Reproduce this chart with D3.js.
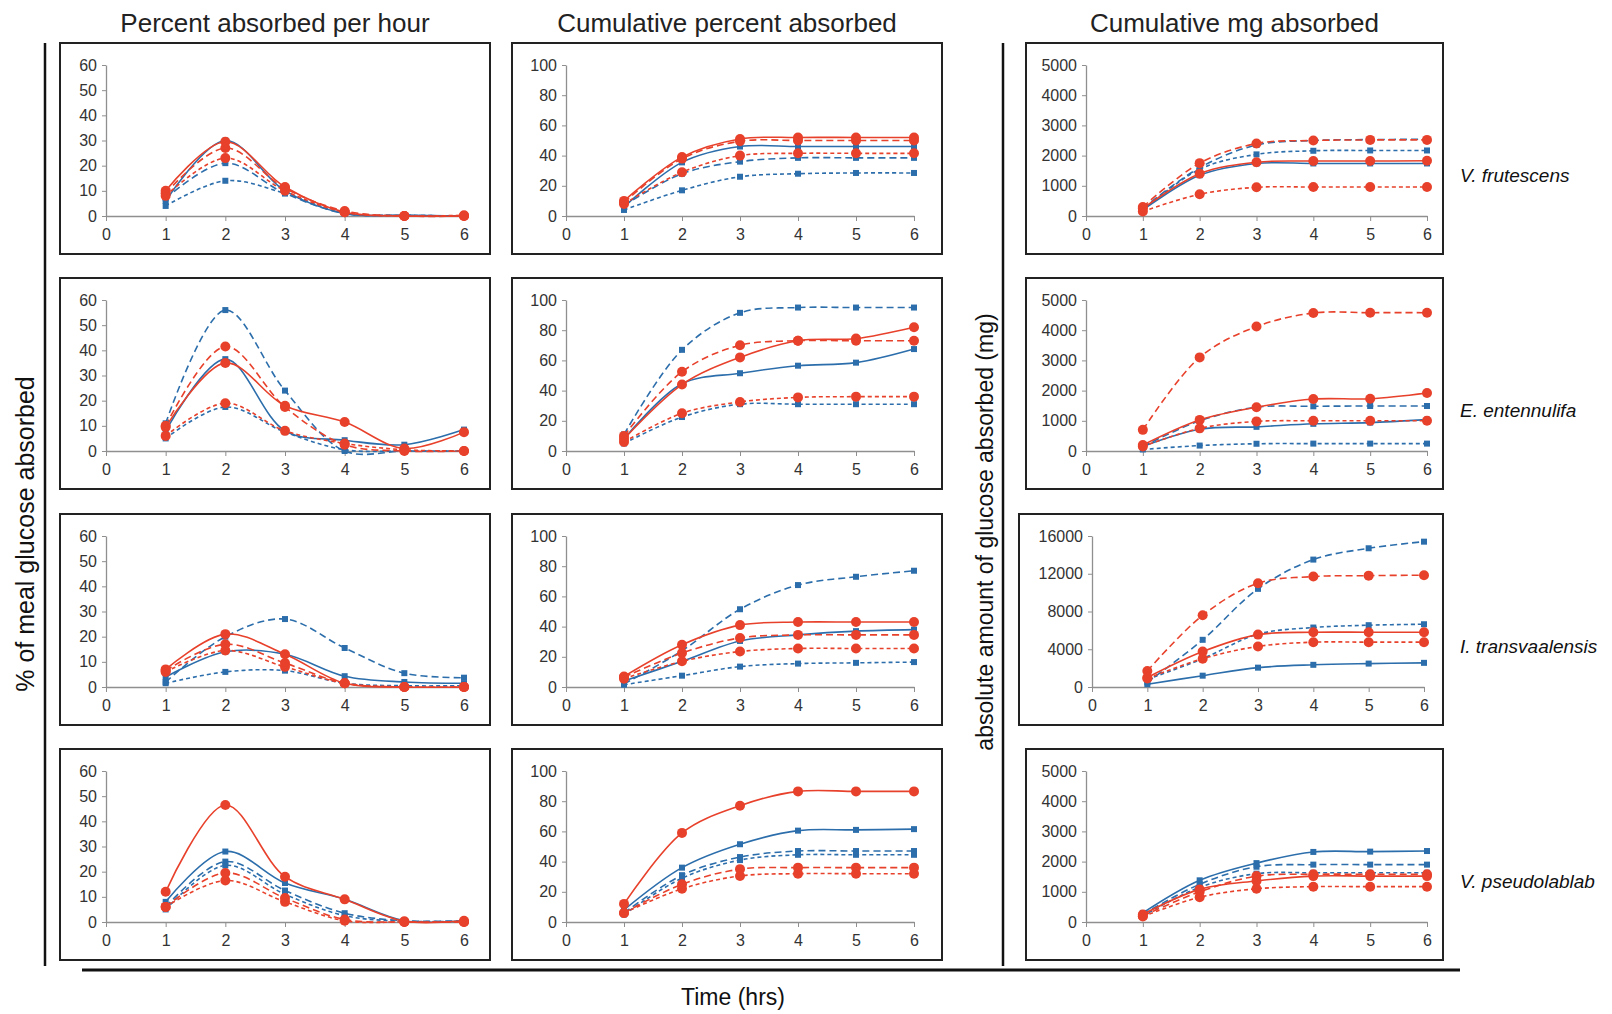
<!DOCTYPE html>
<html>
<head>
<meta charset="utf-8">
<script src="https://cdn.jsdelivr.net/npm/d3@7"></script>
<style>
  body { margin: 0; background: #fff; }
  svg { display: block; }
  text { font-family: "Liberation Sans", Arial, sans-serif; }
</style>
</head>
<body>
<svg id="chart"></svg>
<script>
// ---- data ----
const hours = [1, 2, 3, 4, 5, 6];
const xTicks = [0, 1, 2, 3, 4, 5, 6];
const columnTitles = ['Percent absorbed per hour', 'Cumulative percent absorbed', 'Cumulative mg absorbed'];
const species = ['V. frutescens', 'E. entennulifa', 'I. transvaalensis', 'V. pseudolablab'];
const rateTicks = [0, 10, 20, 30, 40, 50, 60];
const pctTicks = [0, 20, 40, 60, 80, 100];
const mgTicks = [0, 1000, 2000, 3000, 4000, 5000];
const mgTicksBig = [0, 4000, 8000, 12000, 16000];

// series order in every panel:
// blue solid, blue dashed (long), blue dashed (short), red solid, red dashed (long), red dashed (short)
const perHourVF = [
  [6, 30, 10, 1, 0.3, 0],
  [7, 21, 9, 1, 0.3, 0],
  [4, 14, 9, 1, 0.3, 0],
  [10, 29.5, 11.5, 1.5, 0, 0],
  [9, 27, 11, 2, 0, 0],
  [8, 23, 10, 1.5, 0, 0.3]
];
const cumPctVF = [
  [6, 35.5, 46, 46, 46, 46],
  [7, 28, 36, 38.5, 38.5, 38.5],
  [4, 17, 26, 28, 28.5, 28.5],
  [10, 39, 51, 52, 52, 52],
  [9, 38, 49.5, 50, 50, 50],
  [8, 29, 40, 41.5, 41.5, 41.5]
];
const cumMgVF = [
  [200, 1350, 1740, 1740, 1740, 1740],
  [250, 1600, 2350, 2500, 2530, 2540],
  [200, 1550, 2040, 2160, 2170, 2170],
  [250, 1400, 1780, 1820, 1820, 1830],
  [300, 1750, 2400, 2500, 2520, 2520],
  [150, 720, 950, 960, 960, 960]
];

const perHourEE = [
  [8, 36.5, 8, 4.3, 2.5, 8.5],
  [11, 56, 24, 0, 0, 0],
  [5, 17.5, 7.5, 0.5, 0, 0],
  [9.5, 35, 18, 11.5, 1, 7.5],
  [10, 41.5, 17.5, 2.5, 0, 0],
  [6, 19, 8, 3, 0.5, 0]
];
const cumPctEE = [
  [8, 44.5, 51.5, 56.5, 58.5, 67.5],
  [11, 67, 91.5, 95, 95, 95],
  [5, 22.5, 31, 31, 31, 31],
  [8, 44, 62, 73, 74.5, 82],
  [10, 52.5, 70, 73, 73, 73],
  [6, 25, 32.5, 35.5, 36, 36]
];
const cumMgEE = [
  [150, 720, 800, 900, 940, 1040],
  [150, 1000, 1450, 1480, 1490, 1490],
  [50, 180, 240, 245, 245, 245],
  [200, 1030, 1450, 1720, 1730, 1920],
  [700, 3100, 4120, 4570, 4580, 4580],
  [150, 750, 980, 1000, 1000, 1000]
];

const perHourIT = [
  [4, 14, 13, 4.3, 2, 1.5],
  [2, 20, 27, 15.5, 5.5, 3.7],
  [1.5, 6, 6.5, 1.5, 0.5, 0.5],
  [7, 21, 13, 1.5, 0, 0],
  [6.5, 17, 9.5, 1.5, 0, 0],
  [6, 14.5, 8, 1.5, 0, 0]
];
const cumPctIT = [
  [4, 17, 30.5, 34.5, 37, 38],
  [2, 24, 51.5, 67.5, 73, 77],
  [1.5, 7.5, 13.5, 15.5, 16, 16.5],
  [7, 28, 41, 43, 43, 43],
  [6.5, 22.5, 32.5, 34.5, 34.5, 34.5],
  [5.5, 17, 23.5, 25.5, 25.5, 25.5]
];
const cumMgIT = [
  [300, 1200, 2050, 2350, 2480, 2560],
  [500, 5000, 10400, 13500, 14700, 15400],
  [800, 3000, 5600, 6300, 6550, 6650],
  [1000, 3750, 5550, 5800, 5800, 5800],
  [1700, 7600, 11000, 11700, 11800, 11850],
  [900, 3000, 4300, 4750, 4750, 4750]
];

const perHourVP = [
  [8, 28, 15.5, 9, 0.5, 0.5],
  [6, 24, 12.5, 3.5, 0.5, 0.5],
  [5, 22.5, 11, 2.5, 0.3, 0.3],
  [12, 46.5, 18, 9, 0.3, 0.5],
  [6, 19.5, 9.5, 1, 0, 0],
  [6, 16.5, 8, 0.5, 0, 0]
];
const cumPctVP = [
  [8, 36, 51.5, 60.5, 61, 61.5],
  [6, 31, 43, 47, 47, 47],
  [5, 29, 41, 44.5, 44.5, 44.5],
  [12, 59, 77, 86.5, 86.5, 86.5],
  [6, 25, 35, 36, 36, 36],
  [6, 22, 30.5, 32, 32, 32]
];
const cumMgVP = [
  [300, 1380, 1950, 2320, 2330, 2350],
  [250, 1250, 1830, 1900, 1900, 1900],
  [200, 1150, 1600, 1630, 1630, 1630],
  [250, 1080, 1360, 1520, 1520, 1520],
  [200, 1000, 1520, 1580, 1580, 1580],
  [180, 820, 1100, 1170, 1170, 1170]
];

// ---- layout / style ----
const w = 1612, h = 1014;
const blue = '#2c6eab', red = '#e8412b';
const seriesColor = [blue, blue, blue, red, red, red];
const seriesDash = [null, '7,4', '4,3', null, '7,4', '4,3'];
const seriesMarker = ['square', 'square', 'square', 'circle', 'circle', 'circle'];

const boxX = [60, 512, 1026], boxR = [490, 942, 1443];
const plotX0 = [106, 566, 1086], plotX1 = [464, 914, 1427];
const boxY = [43, 278, 514, 749];
const boxH = 211;

const grid = [
  [perHourVF, cumPctVF, cumMgVF],
  [perHourEE, cumPctEE, cumMgEE],
  [perHourIT, cumPctIT, cumMgIT],
  [perHourVP, cumPctVP, cumMgVP]
];

const svg = d3.select('#chart').attr('width', w).attr('height', h);

// column titles
columnTitles.forEach((t, i) => {
  svg.append('text')
    .attr('x', (boxX[i] + boxR[i]) / 2)
    .attr('y', 32)
    .attr('text-anchor', 'middle')
    .attr('font-size', 26)
    .attr('fill', '#222')
    .text(t);
});

const line = d3.line()
  .x(d => d[0])
  .y(d => d[1])
  .curve(d3.curveCatmullRom.alpha(0.5));

grid.forEach((row, r) => {
  row.forEach((data, c) => {
    const big = c === 2 && d3.max(data.flat()) > 5000;
    const ticks = c === 0 ? rateTicks : c === 1 ? pctTicks : (big ? mgTicksBig : mgTicks);
    const bx = big ? boxX[c] - 7 : boxX[c];
    const top = boxY[r];

    svg.append('rect')
      .attr('x', bx).attr('y', top)
      .attr('width', boxR[c] - bx).attr('height', boxH)
      .attr('fill', 'none')
      .attr('stroke', '#222')
      .attr('stroke-width', 2);

    const xScale = d3.scaleLinear()
      .domain([0, 6])
      .range([big ? plotX0[c] + 6 : plotX0[c], big ? plotX1[c] - 3 : plotX1[c]]);
    const yScale = d3.scaleLinear()
      .domain([0, ticks[ticks.length - 1]])
      .range([top + 173, top + 22]);

    const g = svg.append('g');

    const yAxis = g.append('g')
      .attr('transform', `translate(${xScale(0)},0)`)
      .call(d3.axisLeft(yScale).tickValues(ticks).tickFormat(d3.format('d'))
        .tickSize(4).tickSizeOuter(0).tickPadding(5));
    const xAxis = g.append('g')
      .attr('transform', `translate(0,${yScale(0)})`)
      .call(d3.axisBottom(xScale).tickValues(xTicks).tickFormat(d3.format('d'))
        .tickSize(5).tickSizeOuter(0).tickPadding(8));

    [yAxis, xAxis].forEach(a => {
      a.attr('font-size', 16).attr('font-family', '"Liberation Sans", Arial, sans-serif');
      a.select('.domain').attr('stroke', '#8f8f8f').attr('stroke-width', 1.3);
      a.selectAll('.tick line').attr('stroke', '#8f8f8f');
      a.selectAll('.tick text').attr('fill', '#333');
    });

    // series
    data.forEach((vals, s) => {
      const pts = vals.map((v, i) => [xScale(hours[i]), yScale(v)]);
      g.append('path')
        .attr('d', line(pts))
        .attr('fill', 'none')
        .attr('stroke', seriesColor[s])
        .attr('stroke-width', 1.6)
        .attr('stroke-dasharray', seriesDash[s]);
    });
    data.forEach((vals, s) => {
      const pts = vals.map((v, i) => [xScale(hours[i]), yScale(v)]);
      if (seriesMarker[s] === 'circle') {
        g.selectAll(null).data(pts).join('circle')
          .attr('cx', d => d[0]).attr('cy', d => d[1])
          .attr('r', 5)
          .attr('fill', seriesColor[s]);
      } else {
        g.selectAll(null).data(pts).join('rect')
          .attr('x', d => d[0] - 3).attr('y', d => d[1] - 3)
          .attr('width', 6).attr('height', 6)
          .attr('fill', seriesColor[s]);
      }
    });
  });

  svg.append('text')
    .attr('x', 1460)
    .attr('y', boxY[r] + 139)
    .attr('font-size', 19)
    .attr('font-style', 'italic')
    .attr('fill', '#111')
    .text(species[r]);
});

// frame lines
svg.append('line').attr('x1', 45).attr('x2', 45).attr('y1', 43).attr('y2', 966)
  .attr('stroke', '#111').attr('stroke-width', 2.5);
svg.append('line').attr('x1', 1003).attr('x2', 1003).attr('y1', 43).attr('y2', 966)
  .attr('stroke', '#111').attr('stroke-width', 2.5);
svg.append('line').attr('x1', 82).attr('x2', 1460).attr('y1', 970).attr('y2', 970)
  .attr('stroke', '#111').attr('stroke-width', 3);

// axis titles
svg.append('text')
  .attr('transform', 'translate(34,534) rotate(-90)')
  .attr('text-anchor', 'middle')
  .attr('font-size', 25)
  .attr('fill', '#111')
  .text('% of meal glucose absorbed');
svg.append('text')
  .attr('transform', 'translate(993,532) rotate(-90)')
  .attr('text-anchor', 'middle')
  .attr('font-size', 23)
  .attr('fill', '#111')
  .text('absolute amount of glucose absorbed (mg)');
svg.append('text')
  .attr('x', 733)
  .attr('y', 1005)
  .attr('text-anchor', 'middle')
  .attr('font-size', 23)
  .attr('fill', '#111')
  .text('Time (hrs)');
</script>
</body>
</html>
